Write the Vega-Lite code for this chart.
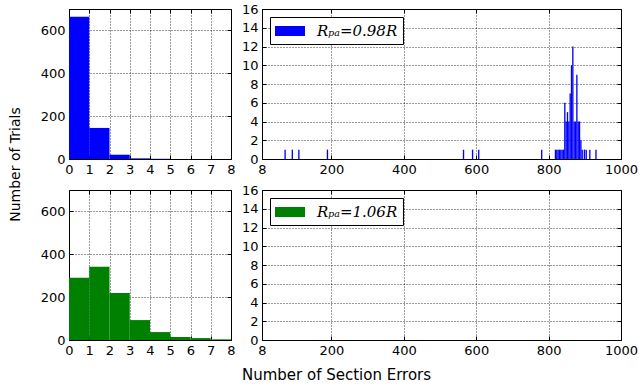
{
  "$schema": "https://vega.github.io/schema/vega-lite/v6.json",
  "background": "white",
  "padding": {"left": 7, "top": 2, "right": 0, "bottom": 0},
  "datasets": {
    "blueSmall": [
      {"lo": 0, "hi": 1, "count": 664, "series": "Rₚₐ=0.98R"},
      {"lo": 1, "hi": 2, "count": 145, "series": "Rₚₐ=0.98R"},
      {"lo": 2, "hi": 3, "count": 20, "series": "Rₚₐ=0.98R"},
      {"lo": 3, "hi": 4, "count": 3, "series": "Rₚₐ=0.98R"},
      {"lo": 4, "hi": 5, "count": 1, "series": "Rₚₐ=0.98R"}
    ],
    "blueLarge": [
      {"lo": 70.0, "hi": 73.7, "count": 1, "series": "Rₚₐ=0.98R"},
      {"lo": 90.0, "hi": 93.7, "count": 1, "series": "Rₚₐ=0.98R"},
      {"lo": 108.0, "hi": 111.7, "count": 1, "series": "Rₚₐ=0.98R"},
      {"lo": 187.0, "hi": 190.7, "count": 1, "series": "Rₚₐ=0.98R"},
      {"lo": 563.0, "hi": 566.7, "count": 1, "series": "Rₚₐ=0.98R"},
      {"lo": 588.0, "hi": 591.7, "count": 1, "series": "Rₚₐ=0.98R"},
      {"lo": 605.0, "hi": 608.7, "count": 1, "series": "Rₚₐ=0.98R"},
      {"lo": 779.0, "hi": 782.7, "count": 1, "series": "Rₚₐ=0.98R"},
      {"lo": 817.0, "hi": 820.7, "count": 1, "series": "Rₚₐ=0.98R"},
      {"lo": 820.7, "hi": 824.4, "count": 1, "series": "Rₚₐ=0.98R"},
      {"lo": 824.4, "hi": 828.1, "count": 1, "series": "Rₚₐ=0.98R"},
      {"lo": 828.1, "hi": 831.8, "count": 1, "series": "Rₚₐ=0.98R"},
      {"lo": 831.8, "hi": 835.5, "count": 1, "series": "Rₚₐ=0.98R"},
      {"lo": 835.5, "hi": 839.2, "count": 1, "series": "Rₚₐ=0.98R"},
      {"lo": 839.2, "hi": 842.9, "count": 1, "series": "Rₚₐ=0.98R"},
      {"lo": 842.9, "hi": 846.6, "count": 6, "series": "Rₚₐ=0.98R"},
      {"lo": 846.6, "hi": 850.3, "count": 4, "series": "Rₚₐ=0.98R"},
      {"lo": 850.3, "hi": 854.0, "count": 5, "series": "Rₚₐ=0.98R"},
      {"lo": 854.0, "hi": 857.7, "count": 4, "series": "Rₚₐ=0.98R"},
      {"lo": 857.7, "hi": 861.4, "count": 7, "series": "Rₚₐ=0.98R"},
      {"lo": 861.4, "hi": 865.1, "count": 10, "series": "Rₚₐ=0.98R"},
      {"lo": 865.1, "hi": 868.8, "count": 12, "series": "Rₚₐ=0.98R"},
      {"lo": 868.8, "hi": 872.5, "count": 4, "series": "Rₚₐ=0.98R"},
      {"lo": 872.5, "hi": 876.2, "count": 4, "series": "Rₚₐ=0.98R"},
      {"lo": 876.2, "hi": 879.9, "count": 9, "series": "Rₚₐ=0.98R"},
      {"lo": 879.9, "hi": 883.6, "count": 4, "series": "Rₚₐ=0.98R"},
      {"lo": 883.6, "hi": 887.3, "count": 4, "series": "Rₚₐ=0.98R"},
      {"lo": 887.3, "hi": 891.0, "count": 2, "series": "Rₚₐ=0.98R"},
      {"lo": 891.0, "hi": 894.7, "count": 1, "series": "Rₚₐ=0.98R"},
      {"lo": 897.0, "hi": 900.7, "count": 1, "series": "Rₚₐ=0.98R"},
      {"lo": 902.0, "hi": 905.7, "count": 1, "series": "Rₚₐ=0.98R"},
      {"lo": 912.0, "hi": 915.7, "count": 1, "series": "Rₚₐ=0.98R"},
      {"lo": 929.0, "hi": 932.7, "count": 1, "series": "Rₚₐ=0.98R"}
    ],
    "green": [
      {"lo": 0, "hi": 1, "count": 291, "series": "Rₚₐ=1.06R"},
      {"lo": 1, "hi": 2, "count": 342, "series": "Rₚₐ=1.06R"},
      {"lo": 2, "hi": 3, "count": 219, "series": "Rₚₐ=1.06R"},
      {"lo": 3, "hi": 4, "count": 93, "series": "Rₚₐ=1.06R"},
      {"lo": 4, "hi": 5, "count": 37, "series": "Rₚₐ=1.06R"},
      {"lo": 5, "hi": 6, "count": 14, "series": "Rₚₐ=1.06R"},
      {"lo": 6, "hi": 7, "count": 9, "series": "Rₚₐ=1.06R"},
      {"lo": 7, "hi": 8, "count": 3, "series": "Rₚₐ=1.06R"}
    ]
  },
  "config": {
    "view": {"stroke": "black", "strokeWidth": 1},
    "axis": {
      "labelFont": "DejaVu Sans", "labelFontSize": 13, "labelColor": "black",
      "titleFont": "DejaVu Sans", "titleFontSize": 13, "titleFontWeight": "normal", "titleColor": "black",
      "domain": false, "tickColor": "black", "tickSize": -4, "tickWidth": 1,
      "gridColor": "black", "gridDash": [1, 2], "gridOpacity": 1, "gridWidth": 0.8,
      "labelPadding": 8, "zindex": 1, "labelFlush": false, "labelOverlap": false, "format": "d"
    },
    "legend": {
      "orient": "top-left", "offset": 8, "title": null,
      "strokeColor": "black", "fillColor": "white", "padding": 5, "cornerRadius": 0,
      "symbolType": "M-1.667,-0.556H1.667V0.556H-1.667Z", "symbolSize": 324, "symbolStrokeWidth": 0,
      "symbolOffset": 6, "labelOffset": 18,
      "labelFont": "DejaVu Serif", "labelFontStyle": "italic", "labelFontSize": 15, "labelColor": "black"
    }
  },
  "concat": [
    {
      "width": 162, "height": 150,
      "data": {"name": "blueSmall"},
      "layer": [
        {
          "mark": {"type": "rect", "color": "#0000ff"},
          "encoding": {
            "x": {"field": "lo", "type": "quantitative", "scale": {"domain": [0, 8], "nice": false, "zero": false}, "axis": {"values": [0,1,2,3,4,5,6,7,8], "title": null}},
            "x2": {"field": "hi"},
            "y": {"field": "count", "type": "quantitative", "scale": {"domain": [0, 700], "nice": false}, "axis": {"values": [0,200,400,600], "title": null}},
            "y2": {"datum": 0}
          }
        },
        {
          "mark": {"type": "rect", "opacity": 0},
          "encoding": {
            "x": {"field": "lo", "type": "quantitative", "axis": {"orient": "top", "values": [0,1,2,3,4,5,6,7,8], "title": null, "labels": false, "grid": false}},
            "x2": {"field": "hi"},
            "y": {"field": "count", "type": "quantitative", "axis": {"orient": "right", "values": [0,200,400,600], "title": null, "labels": false, "grid": false}},
            "y2": {"datum": 0}
          }
        }
      ],
      "resolve": {"axis": {"x": "independent", "y": "independent"}}
    },
    {
      "width": 359, "height": 150,
      "data": {"name": "blueLarge"},
      "layer": [
        {
          "mark": {"type": "rect", "clip": true},
          "encoding": {
            "x": {"field": "lo", "type": "quantitative", "scale": {"domain": [8, 1000], "nice": false, "zero": false}, "axis": {"values": [8,200,400,600,800,1000], "title": null}},
            "x2": {"field": "hi"},
            "y": {"field": "count", "type": "quantitative", "scale": {"domain": [0, 16], "nice": false}, "axis": {"values": [0,2,4,6,8,10,12,14,16], "title": null}},
            "y2": {"datum": 0},
            "color": {"field": "series", "type": "nominal", "scale": {"domain": ["Rₚₐ=0.98R"], "range": ["#0000ff"]}}
          }
        },
        {
          "mark": {"type": "rect", "opacity": 0, "clip": true},
          "encoding": {
            "x": {"field": "lo", "type": "quantitative", "axis": {"orient": "top", "values": [8,200,400,600,800,1000], "title": null, "labels": false, "grid": false}},
            "x2": {"field": "hi"},
            "y": {"field": "count", "type": "quantitative", "axis": {"orient": "right", "values": [0,2,4,6,8,10,12,14,16], "title": null, "labels": false, "grid": false}},
            "y2": {"datum": 0}
          }
        }
      ],
      "resolve": {"axis": {"x": "independent", "y": "independent"}}
    },
    {
      "width": 162, "height": 150,
      "data": {"name": "green"},
      "layer": [
        {
          "mark": {"type": "rect", "color": "#008000"},
          "encoding": {
            "x": {"field": "lo", "type": "quantitative", "scale": {"domain": [0, 8], "nice": false, "zero": false}, "axis": {"values": [0,1,2,3,4,5,6,7,8], "title": "Number of Section Errors", "titleFontSize": 15, "titleX": 267, "titleY": 34, "titleBaseline": "middle", "titleAlign": "center"}},
            "x2": {"field": "hi"},
            "y": {"field": "count", "type": "quantitative", "scale": {"domain": [0, 700], "nice": false}, "axis": {"values": [0,200,400,600], "title": "Number of Trials", "titleFontSize": 14, "titleX": -54, "titleY": -26, "titleBaseline": "middle", "titleAlign": "center", "titleAngle": -90}},
            "y2": {"datum": 0}
          }
        },
        {
          "mark": {"type": "rect", "opacity": 0},
          "encoding": {
            "x": {"field": "lo", "type": "quantitative", "axis": {"orient": "top", "values": [0,1,2,3,4,5,6,7,8], "title": null, "labels": false, "grid": false}},
            "x2": {"field": "hi"},
            "y": {"field": "count", "type": "quantitative", "axis": {"orient": "right", "values": [0,200,400,600], "title": null, "labels": false, "grid": false}},
            "y2": {"datum": 0}
          }
        }
      ],
      "resolve": {"axis": {"x": "independent", "y": "independent"}}
    },
    {
      "width": 359, "height": 150,
      "data": {"name": "green"},
      "layer": [
        {
          "mark": {"type": "rect", "clip": true},
          "encoding": {
            "x": {"field": "lo", "type": "quantitative", "scale": {"domain": [8, 1000], "nice": false, "zero": false}, "axis": {"values": [8,200,400,600,800,1000], "title": null}},
            "x2": {"field": "hi"},
            "y": {"field": "count", "type": "quantitative", "scale": {"domain": [0, 16], "nice": false}, "axis": {"values": [0,2,4,6,8,10,12,14,16], "title": null}},
            "y2": {"datum": 0},
            "color": {"field": "series", "type": "nominal", "scale": {"domain": ["Rₚₐ=1.06R"], "range": ["#008000"]}}
          }
        },
        {
          "mark": {"type": "rect", "opacity": 0, "clip": true},
          "encoding": {
            "x": {"field": "lo", "type": "quantitative", "axis": {"orient": "top", "values": [8,200,400,600,800,1000], "title": null, "labels": false, "grid": false}},
            "x2": {"field": "hi"},
            "y": {"field": "count", "type": "quantitative", "axis": {"orient": "right", "values": [0,2,4,6,8,10,12,14,16], "title": null, "labels": false, "grid": false}},
            "y2": {"datum": 0}
          }
        }
      ],
      "resolve": {"axis": {"x": "independent", "y": "independent"}}
    }
  ],
  "columns": 2,
  "spacing": 31, "bounds": "flush", "align": "each",
  "resolve": {"scale": {"color": "independent"}, "legend": {"color": "independent"}}
}
